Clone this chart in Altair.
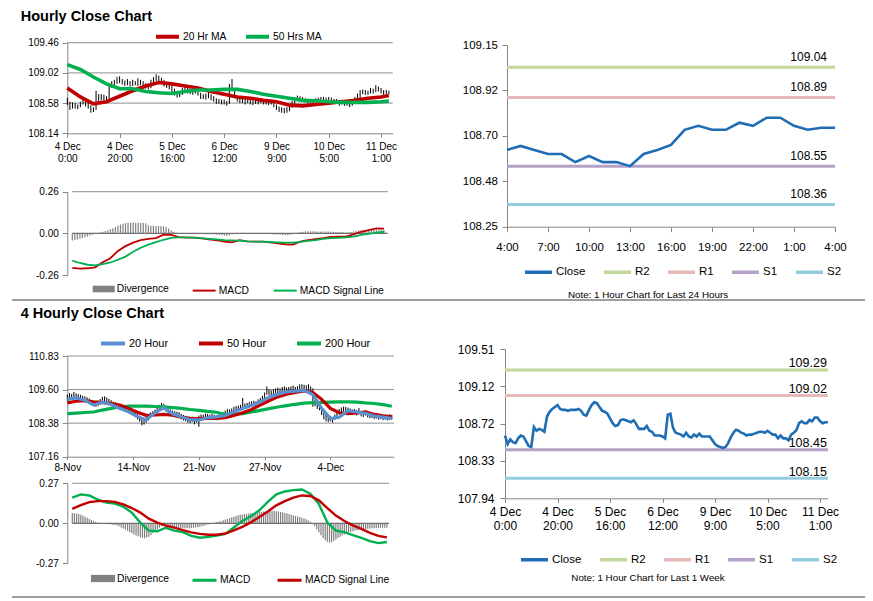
import json
import altair as alt
import pandas as pd

FONT = "Liberation Sans"
AXC = "#868686"
W, H = 857, 590

# ======================= DATA =======================
# Hourly series, index 0 = 4 Dec 0:00 ... index 123 = 11 Dec 4:00
week_close_head = [108.60, 108.51, 108.56, 108.53, 108.52, 108.57, 108.60, 108.59, 108.54, 108.49,
                   108.48, 108.69, 108.65, 108.67, 108.66, 108.64, 108.80, 108.85, 108.88, 108.90,
                   108.92, 108.88, 108.87, 108.87, 108.86, 108.87, 108.87, 108.87, 108.88, 108.86,
                   108.82, 108.81, 108.87, 108.92, 108.95, 108.94, 108.90, 108.86, 108.85, 108.83,
                   108.78, 108.73, 108.70, 108.71, 108.76, 108.77, 108.76, 108.75, 108.74, 108.76,
                   108.72, 108.67, 108.67, 108.67, 108.70, 108.65, 108.64, 108.60, 108.60, 108.60,
                   108.59, 108.57, 108.82, 108.83, 108.68, 108.63, 108.62, 108.61, 108.59, 108.63,
                   108.59, 108.58, 108.61, 108.59, 108.62, 108.59, 108.59, 108.59, 108.59, 108.55,
                   108.51, 108.49, 108.48, 108.47, 108.48, 108.52, 108.58, 108.63, 108.66, 108.65,
                   108.63, 108.62, 108.60, 108.61, 108.61, 108.62, 108.63, 108.64, 108.64]
# last 24 hours: 10 Dec 4:00 ... 11 Dec 4:00
day_close = [108.63, 108.65, 108.63, 108.61, 108.61, 108.57, 108.60, 108.57, 108.57, 108.55,
             108.61, 108.63, 108.655, 108.73, 108.75, 108.73, 108.73, 108.765, 108.75, 108.79,
             108.79, 108.75, 108.73, 108.74, 108.74]
hour_close = week_close_head + day_close

hour_high = [108.66, 108.60, 108.59, 108.58, 108.56, 108.60, 108.63, 108.62, 108.59, 108.55,
             108.52, 108.76, 108.71, 108.71, 108.70, 108.68, 108.84, 108.90, 108.92, 108.96,
             108.97, 108.93, 108.91, 108.93, 108.90, 108.92, 108.90, 108.94, 108.92, 108.90,
             108.87, 108.85, 108.92, 108.96, 109.00, 108.98, 108.95, 108.92, 108.89, 108.88,
             108.84, 108.79, 108.75, 108.75, 108.80, 108.81, 108.80, 108.79, 108.78, 108.80,
             108.77, 108.73, 108.71, 108.72, 108.74, 108.71, 108.68, 108.65, 108.64, 108.63,
             108.63, 108.61, 108.86, 108.93, 108.80, 108.69, 108.66, 108.65, 108.64, 108.66,
             108.64, 108.62, 108.64, 108.63, 108.65, 108.63, 108.62, 108.62, 108.63, 108.60,
             108.56, 108.53, 108.52, 108.51, 108.52, 108.55, 108.61, 108.66, 108.69, 108.68,
             108.67, 108.65, 108.64, 108.64, 108.64, 108.65, 108.66, 108.67, 108.67, 108.66,
             108.67, 108.66, 108.64, 108.64, 108.62, 108.63, 108.61, 108.60, 108.59, 108.63,
             108.67, 108.72, 108.77, 108.78, 108.77, 108.76, 108.80, 108.79, 108.84, 108.82,
             108.80, 108.77, 108.77, 108.76]
hour_low = [108.55, 108.48, 108.50, 108.50, 108.49, 108.52, 108.56, 108.53, 108.50, 108.44,
            108.45, 108.48, 108.60, 108.62, 108.62, 108.60, 108.63, 108.80, 108.84, 108.86,
            108.87, 108.85, 108.83, 108.84, 108.82, 108.83, 108.84, 108.83, 108.84, 108.81,
            108.79, 108.78, 108.80, 108.86, 108.90, 108.89, 108.86, 108.82, 108.80, 108.78,
            108.74, 108.69, 108.66, 108.67, 108.70, 108.73, 108.72, 108.71, 108.70, 108.72,
            108.69, 108.64, 108.64, 108.63, 108.65, 108.62, 108.60, 108.57, 108.57, 108.56,
            108.56, 108.54, 108.57, 108.77, 108.65, 108.60, 108.58, 108.58, 108.56, 108.58,
            108.56, 108.55, 108.57, 108.56, 108.58, 108.56, 108.56, 108.55, 108.56, 108.52,
            108.48, 108.45, 108.44, 108.43, 108.44, 108.46, 108.51, 108.57, 108.62, 108.61,
            108.60, 108.59, 108.57, 108.58, 108.58, 108.59, 108.60, 108.61, 108.60, 108.60,
            108.61, 108.60, 108.58, 108.58, 108.54, 108.56, 108.54, 108.54, 108.52, 108.54,
            108.59, 108.62, 108.65, 108.71, 108.70, 108.70, 108.72, 108.72, 108.74, 108.75,
            108.72, 108.70, 108.71, 108.71]

hour_ticks = [0, 20, 40, 60, 80, 100, 120]
hour_tick_labels = [["4 Dec", "0:00"], ["4 Dec", "20:00"], ["5 Dec", "16:00"], ["6 Dec", "12:00"],
                    ["9 Dec", "9:00"], ["10 Dec", "5:00"], ["11 Dec", "1:00"]]

ma_hours = [0, 5, 10, 15, 20, 25, 30, 35, 40, 45, 50, 55, 60, 65, 70, 75, 80, 85, 90, 95,
            100, 105, 110, 115, 120, 123]
ma20_hour = [108.80, 108.67, 108.57, 108.60, 108.68, 108.76, 108.83, 108.88, 108.86, 108.83,
             108.80, 108.75, 108.71, 108.67, 108.65, 108.62, 108.60, 108.55, 108.54, 108.56,
             108.58, 108.60, 108.62, 108.65, 108.67, 108.69]
ma50_hour = [109.14, 109.07, 108.96, 108.86, 108.79, 108.79, 108.75, 108.73, 108.72, 108.75,
             108.77, 108.77, 108.78, 108.78, 108.75, 108.71, 108.68, 108.65, 108.62, 108.615,
             108.60, 108.59, 108.59, 108.59, 108.60, 108.61]

macd_hours = [0, 3, 6, 9, 12, 15, 18, 21, 24, 27, 30, 33, 36, 39, 42, 45, 48, 51, 54, 57,
              60, 63, 66, 69, 72, 75, 78, 81, 84, 87, 90, 93, 96, 99, 102, 105, 108, 111, 114, 117,
              120, 123]
macd_hour = [-0.215, -0.220, -0.218, -0.212, -0.180, -0.155, -0.110, -0.080, -0.058, -0.042,
             -0.035, -0.030, -0.008, -0.010, -0.024, -0.027, -0.027, -0.032, -0.037, -0.043,
             -0.052, -0.056, -0.042, -0.050, -0.052, -0.052, -0.056, -0.062, -0.068, -0.070,
             -0.052, -0.043, -0.036, -0.030, -0.022, -0.020, -0.020, -0.007, 0.010, 0.020,
             0.031, 0.030]
signal_hour = [-0.170, -0.185, -0.196, -0.200, -0.192, -0.182, -0.165, -0.145, -0.115, -0.090,
               -0.070, -0.055, -0.040, -0.028, -0.025, -0.025, -0.027, -0.030, -0.034, -0.037,
               -0.042, -0.044, -0.046, -0.050, -0.052, -0.052, -0.054, -0.056, -0.058, -0.058,
               -0.053, -0.047, -0.042, -0.035, -0.030, -0.028, -0.025, -0.021, -0.010, -0.003,
               0.004, 0.010]
div_hour = [-0.045, -0.042, -0.038, -0.035, -0.030, -0.025, -0.020, -0.014, -0.008, -0.003,
            0.002, 0.006, 0.010, 0.015, 0.020, 0.026, 0.032, 0.040, 0.048, 0.055,
            0.060, 0.064, 0.066, 0.067, 0.067, 0.066, 0.066, 0.065, 0.064, 0.063,
            0.050, 0.048, 0.047, 0.046, 0.046, 0.045, 0.044, 0.040, 0.030, 0.020,
            0.010, 0.004, 0.001, -0.001, -0.002, -0.002, -0.002, -0.001, -0.002, -0.003,
            -0.003, -0.004, -0.005, -0.005, -0.006, -0.006, -0.007, -0.008, -0.010, -0.012,
            -0.014, -0.016, -0.012, -0.006, -0.002, 0.002, 0.001, 0.000, -0.001, -0.002,
            -0.001, -0.001, 0.000, -0.001, -0.002, -0.002, -0.003, -0.004, -0.005, -0.006,
            -0.007, -0.008, -0.009, -0.010, -0.011, -0.012, -0.010, -0.005, 0.000, 0.004,
            0.008, 0.010, 0.012, 0.013, 0.013, 0.013, 0.012, 0.012, 0.012, 0.011,
            0.011, 0.011, 0.010, 0.010, 0.009, 0.008, 0.008, 0.007, 0.006, 0.006,
            0.008, 0.012, 0.016, 0.018, 0.020, 0.021, 0.022, 0.023, 0.023, 0.022,
            0.021, 0.020, 0.020, 0.019]

day_ticks = [0, 3, 6, 9, 12, 15, 18, 21, 24]
day_tick_labels = ["4:00", "7:00", "10:00", "13:00", "16:00", "19:00", "22:00", "1:00", "4:00"]

level_names = ["R2", "R1", "S1", "S2"]
day_levels = [109.04, 108.89, 108.55, 108.36]
day_level_labels = ["109.04", "108.89", "108.55", "108.36"]
week_levels = [109.29, 109.02, 108.45, 108.15]
week_level_labels = ["109.29", "109.02", "108.45", "108.15"]

# 4-hourly series, index 0 = 8 Nov ... index 148
fh_high = [109.42, 109.48, 109.45, 109.52, 109.47, 109.44, 109.42, 109.38, 109.36, 109.33,
           109.28, 109.22, 109.18, 109.14, 109.20, 109.26, 109.34, 109.36, 109.32, 109.27,
           109.22, 109.17, 109.14, 109.10, 109.08, 109.04, 109.00, 108.98, 108.95, 108.90,
           108.85, 108.80, 108.74, 108.66, 108.58, 108.52, 108.60, 108.68, 108.77, 108.82,
           108.88, 108.94, 109.05, 109.12, 109.08, 109.00, 108.92, 108.88, 108.84, 108.82,
           108.80, 108.78, 108.72, 108.68, 108.65, 108.60, 108.58, 108.62, 108.56, 108.60,
           108.66, 108.70, 108.69, 108.73, 108.72, 108.69, 108.72, 108.69, 108.67, 108.70,
           108.74, 108.78, 108.84, 108.90, 108.88, 108.92, 108.98, 109.00, 109.02, 109.05,
           109.30, 109.10, 109.12, 109.15, 109.18, 109.20, 109.18, 109.25, 109.30, 109.38,
           109.50, 109.72, 109.62, 109.58, 109.62, 109.65, 109.68, 109.65, 109.70, 109.72,
           109.68, 109.70, 109.72, 109.75, 109.70, 109.73, 109.80, 109.80, 109.78, 109.76,
           109.80, 109.72, 109.65, 109.22, 109.12, 109.06, 108.95, 108.80, 108.68, 108.62,
           108.65, 108.60, 108.70, 108.82, 108.90, 108.95, 108.98, 108.97, 108.95, 108.92,
           108.88, 108.90, 108.85, 108.93, 108.82, 108.80, 108.85, 108.78, 108.74, 108.76,
           108.72, 108.73, 108.70, 108.71, 108.68, 108.69, 108.67, 108.71, 108.69]
fh_low = [109.20, 109.26, 109.28, 109.32, 109.30, 109.28, 109.24, 109.20, 109.18, 109.14,
          109.08, 109.04, 109.02, 108.98, 109.00, 109.05, 109.12, 109.18, 109.14, 109.10,
          109.04, 109.00, 108.96, 108.93, 108.90, 108.86, 108.82, 108.80, 108.74, 108.70,
          108.66, 108.60, 108.52, 108.44, 108.30, 108.33, 108.40, 108.48, 108.58, 108.64,
          108.70, 108.76, 108.84, 108.92, 108.88, 108.80, 108.74, 108.70, 108.66, 108.62,
          108.61, 108.58, 108.52, 108.48, 108.45, 108.40, 108.38, 108.42, 108.34, 108.40,
          108.25, 108.52, 108.50, 108.55, 108.53, 108.51, 108.54, 108.50, 108.49, 108.52,
          108.56, 108.60, 108.66, 108.70, 108.68, 108.72, 108.78, 108.80, 108.83, 108.85,
          108.88, 108.90, 108.93, 108.96, 108.98, 109.00, 108.98, 109.05, 109.10, 109.16,
          109.26, 109.42, 109.40, 109.38, 109.42, 109.45, 109.48, 109.46, 109.50, 109.52,
          109.48, 109.50, 109.53, 109.55, 109.51, 109.54, 109.56, 109.60, 109.58, 109.55,
          109.60, 109.48, 108.98, 109.00, 108.90, 108.85, 108.68, 108.52, 108.45, 108.42,
          108.45, 108.40, 108.50, 108.62, 108.70, 108.76, 108.80, 108.78, 108.76, 108.73,
          108.69, 108.72, 108.66, 108.70, 108.63, 108.61, 108.66, 108.59, 108.56, 108.57,
          108.53, 108.55, 108.51, 108.53, 108.49, 108.51, 108.48, 108.53, 108.51]

fh_ticks = [0, 30, 60, 90, 120]
fh_tick_labels = ["8-Nov", "14-Nov", "21-Nov", "27-Nov", "4-Dec"]

fh_ma_idx = [0, 4, 8, 12, 16, 20, 24, 28, 32, 36, 40, 44, 48, 52, 56, 60, 64, 68, 72, 76,
             80, 84, 88, 92, 96, 100, 104, 108, 112, 116, 120, 124, 128, 132, 136, 140, 144, 148]
ma20_fh = [109.25, 109.30, 109.22, 109.04, 109.15, 109.06, 108.92, 108.80, 108.62, 108.51,
           108.76, 108.95, 108.72, 108.62, 108.50, 108.50, 108.58, 108.61, 108.66, 108.80,
           108.92, 109.03, 109.16, 109.33, 109.44, 109.52, 109.55, 109.58, 109.42, 108.92,
           108.55, 108.60, 108.84, 108.79, 108.74, 108.64, 108.60, 108.55]
ma50_fh = [109.12, 109.18, 109.20, 109.16, 109.13, 109.10, 109.04, 108.92, 108.78, 108.67,
           108.68, 108.70, 108.67, 108.60, 108.56, 108.55, 108.56, 108.56, 108.58, 108.66,
           108.76, 108.88, 109.04, 109.20, 109.34, 109.44, 109.50, 109.56, 109.50, 109.25,
           108.92, 108.76, 108.73, 108.76, 108.79, 108.70, 108.65, 108.61]
ma200_fh = [108.73, 108.75, 108.77, 108.79, 108.86, 108.92, 108.97, 109.00, 109.00, 109.00,
            108.99, 108.98, 108.95, 108.92, 108.88, 108.85, 108.81, 108.78, 108.70, 108.71,
            108.73, 108.79, 108.85, 108.91, 108.97, 109.02, 109.07, 109.11, 109.13, 109.14,
            109.15, 109.16, 109.16, 109.15, 109.12, 109.10, 109.06, 109.00]
macd_fh = [0.173, 0.195, 0.188, 0.160, 0.140, 0.133, 0.112, 0.072, 0.005, -0.050,
           -0.054, -0.030, -0.050, -0.060, -0.085, -0.097, -0.092, -0.083, -0.072, -0.028,
           0.016, 0.048, 0.088, 0.145, 0.195, 0.215, 0.224, 0.228, 0.200, 0.130,
           0.005, -0.050, -0.060, -0.080, -0.099, -0.120, -0.134, -0.126]
signal_fh = [0.097, 0.122, 0.143, 0.150, 0.150, 0.145, 0.128, 0.103, 0.072, 0.031,
             0.004, -0.016, -0.029, -0.046, -0.061, -0.071, -0.077, -0.077, -0.069, -0.048,
             -0.024, 0.006, 0.042, 0.080, 0.121, 0.150, 0.173, 0.188, 0.184, 0.155,
             0.103, 0.052, 0.015, -0.014, -0.038, -0.064, -0.085, -0.095]
div_fh = [0.070, 0.068, 0.065, 0.062, 0.058, 0.052, 0.045, 0.038, 0.030, 0.022,
          0.015, 0.008, 0.003, 0.000, -0.002, -0.004, -0.005, -0.006, -0.008, -0.010,
          -0.012, -0.015, -0.020, -0.028, -0.035, -0.042, -0.050, -0.058, -0.066, -0.075,
          -0.082, -0.088, -0.094, -0.098, -0.100, -0.096, -0.090, -0.080, -0.068, -0.055,
          -0.042, -0.030, -0.020, -0.012, -0.015, -0.020, -0.024, -0.026, -0.028, -0.030,
          -0.031, -0.032, -0.033, -0.034, -0.034, -0.033, -0.032, -0.030, -0.028, -0.026,
          -0.024, -0.020, -0.016, -0.012, -0.008, -0.004, 0.000, 0.004, 0.008, 0.012,
          0.016, 0.020, 0.025, 0.030, 0.035, 0.040, 0.045, 0.050, 0.054, 0.058,
          0.060, 0.062, 0.064, 0.066, 0.068, 0.070, 0.072, 0.074, 0.076, 0.078,
          0.080, 0.082, 0.083, 0.084, 0.085, 0.084, 0.082, 0.080, 0.077, 0.074,
          0.070, 0.066, 0.062, 0.058, 0.054, 0.050, 0.046, 0.042, 0.038, 0.034,
          0.028, 0.020, 0.010, -0.005, -0.020, -0.040, -0.060, -0.080, -0.100, -0.115,
          -0.125, -0.130, -0.128, -0.120, -0.110, -0.100, -0.090, -0.082, -0.075, -0.068,
          -0.062, -0.058, -0.054, -0.050, -0.047, -0.044, -0.042, -0.040, -0.038, -0.036,
          -0.035, -0.034, -0.033, -0.032, -0.031, -0.030, -0.030, -0.030, -0.030]

# axis tick values / labels
p1_ticks = [108.14, 108.58, 109.02, 109.46]
p1_labels = ["108.14", "108.58", "109.02", "109.46"]
m1_ticks = [-0.26, 0, 0.26]
m1_labels = ["-0.26", "0.00", "0.26"]
r1_ticks = [108.25, 108.475, 108.70, 108.925, 109.15]
r1_labels = ["108.25", "108.48", "108.70", "108.92", "109.15"]
p2_ticks = [107.16, 108.3833, 109.6067, 110.83]
p2_labels = ["107.16", "108.38", "109.60", "110.83"]
m2_ticks = [-0.27, 0, 0.27]
m2_labels = ["-0.27", "0.00", "0.27"]
r2_ticks = [107.94, 108.3325, 108.725, 109.1175, 109.51]
r2_labels = ["107.94", "108.33", "108.72", "109.12", "109.51"]

LEVEL_COLORS = ["#1F6DB5", "#C3D69B", "#E6B9B8", "#B3A2C7", "#93CDDD"]
RECT = "M-1,-0.3L1,-0.3L1,0.3L-1,0.3Z"


# ======================= HELPERS =======================
def lab_expr(values, labels):
    return f"{json.dumps(labels)}[indexof({json.dumps(values)}, datum.value)]"


def y_axis(values, labels, offset, size, tick=5, pad=4):
    return alt.Axis(orient="left", offset=offset, values=values, labelExpr=lab_expr(values, labels),
                    title=None, grid=False, domainColor=AXC, domainWidth=1, tickColor=AXC,
                    tickSize=tick, labelPadding=pad, labelFont=FONT, labelFontSize=size,
                    labelColor="#000000", labelOverlap=False, labelFlush=False, labelBound=False)


def x_axis(values, labels, offset, size, tick=4, pad=4, lh=13):
    return alt.Axis(orient="bottom", offset=offset, values=values, labelExpr=lab_expr(values, labels),
                    title=None, grid=False, domainColor=AXC, domainWidth=1, tickColor=AXC,
                    tickSize=tick, labelPadding=pad, labelFont=FONT, labelFontSize=size,
                    labelColor="#000000", labelOverlap=False, labelFlush=False, labelBound=False,
                    labelAngle=0, labelAlign="center", labelLineHeight=lh)


def legend(x, y, size, sym=529, sw=4, off=2, pad=11, stype="stroke"):
    return alt.Legend(orient="none", legendX=x, legendY=y, direction="horizontal", title=None,
                      labelFont=FONT, labelFontSize=size, labelColor="#000000",
                      symbolType=stype, symbolSize=sym, symbolStrokeWidth=sw,
                      labelOffset=off, columnPadding=pad, padding=0)


def qs(domain, rng):
    return alt.Scale(domain=domain, range=rng, nice=False, zero=False)


def long_df(idx, series):
    rows = []
    for name, vals in series:
        for i, v in zip(idx, vals):
            rows.append({"i": i, "v": v, "s": name})
    return pd.DataFrame(rows)


def price_panel(n, high, low, lines, names, colors, xs, ys, ax, ay, grid_vals, xmax, lw, leg):
    X = lambda f: alt.X(f"{f}:Q", scale=xs, axis=ax)
    Y = lambda f: alt.Y(f"{f}:Q", scale=ys, axis=ay)
    grid = alt.Chart(pd.DataFrame({"v": grid_vals, "a": 0, "b": xmax})).mark_rule(
        color="#8C8C8C", strokeWidth=1).encode(x=X("a"), x2="b:Q", y=Y("v"))
    bars = alt.Chart(pd.DataFrame({"i": list(range(n)), "lo": low, "hi": high})).mark_rule(
        color="#000000", strokeWidth=1).encode(x=X("i"), y=Y("lo"), y2="hi:Q")
    ln = alt.Chart(lines).mark_line(strokeWidth=lw).encode(
        x=X("i"), y=Y("v"),
        color=alt.Color("s:N", scale=alt.Scale(domain=names, range=colors), legend=leg))
    return alt.layer(grid, bars, ln)


def macd_panel(div, lines, names, colors, xs, ys, ay, top, xmax, lw, fleg, cleg):
    X = lambda f: alt.X(f"{f}:Q", scale=xs, axis=None)
    Y = lambda f: alt.Y(f"{f}:Q", scale=ys, axis=ay)
    topg = alt.Chart(pd.DataFrame({"v": [top], "a": 0, "b": xmax})).mark_rule(
        color="#8C8C8C", strokeWidth=1).encode(x=X("a"), x2="b:Q", y=Y("v"))
    zero = alt.Chart(pd.DataFrame({"v": [0], "a": 0, "b": xmax})).mark_rule(
        color="#707070", strokeWidth=1.3).encode(x=X("a"), x2="b:Q", y=Y("v"))
    bars = alt.Chart(pd.DataFrame({"i": list(range(len(div))), "d": div, "z": 0,
                                   "s": "Divergence"})).mark_bar(width=1.2).encode(
        x=X("i"), y=Y("d"), y2="z:Q",
        fill=alt.Fill("s:N", scale=alt.Scale(domain=["Divergence"], range=["#808080"]), legend=fleg))
    ln = alt.Chart(lines).mark_line(strokeWidth=lw).encode(
        x=X("i"), y=Y("v"),
        color=alt.Color("s:N", scale=alt.Scale(domain=names, range=colors), legend=cleg))
    return alt.layer(topg, bars, zero, ln)


def level_panel(close, levels, level_labels, xmax, xs, ys, ax, ay, leg, dx, dy, fs):
    X = lambda f: alt.X(f"{f}:Q", scale=xs, axis=ax)
    Y = lambda f: alt.Y(f"{f}:Q", scale=ys, axis=ay)
    col = alt.Color("s:N", scale=alt.Scale(domain=["Close"] + level_names, range=LEVEL_COLORS),
                    legend=leg)
    lev_rows = []
    for name, v in zip(level_names, levels):
        lev_rows += [{"i": 0, "v": v, "s": name}, {"i": xmax, "v": v, "s": name}]
    lev = alt.Chart(pd.DataFrame(lev_rows)).mark_line(strokeWidth=3).encode(x=X("i"), y=Y("v"), color=col)
    cl = alt.Chart(pd.DataFrame({"i": list(range(len(close))), "v": close, "s": "Close"})).mark_line(
        strokeWidth=2.6).encode(x=X("i"), y=Y("v"), color=col)
    lab = alt.Chart(pd.DataFrame({"i": xmax, "v": levels, "t": level_labels})).mark_text(
        align="right", baseline="middle", dx=dx, dy=dy, font=FONT, fontSize=fs, color="#000000").encode(
        x=X("i"), y=Y("v"), text="t:N")
    return alt.layer(lev, cl, lab)


def text_mark(txt, x, y, size, weight="normal", align="left", baseline="middle"):
    return alt.Chart(pd.DataFrame({"t": [txt]})).mark_text(
        align=align, baseline=baseline, font=FONT, fontSize=size, fontWeight=weight,
        color="#000000").encode(text="t:N", x=alt.value(x), y=alt.value(y))


# ======================= PANELS =======================
# --- Hourly close chart (top-left) ---
x_h = qs([0, 124.5], [59.3, 384.8])
p1 = price_panel(
    len(hour_high), hour_high, hour_low,
    long_df(ma_hours, [("20 Hr MA", ma20_hour), ("50 Hrs MA", ma50_hour)]),
    ["20 Hr MA", "50 Hrs MA"], ["#C00000", "#00B050"],
    x_h, qs([108.14, 109.46], [125.3, 34.7]),
    x_axis(hour_ticks, hour_tick_labels, 125.3 - H, 10, tick=4, pad=4, lh=12.7),
    y_axis(p1_ticks, p1_labels, -59.3, 10, tick=5, pad=4),
    [108.58, 109.02, 109.46], 124.5, 3.6,
    legend(146, 15, 10.3, sym=529, sw=4, off=2, pad=11))

m1 = macd_panel(
    div_hour,
    long_df(macd_hours, [("MACD", macd_hour), ("MACD Signal Line", signal_hour)]),
    ["MACD", "MACD Signal Line"], ["#C00000", "#00B050"],
    x_h, qs([-0.26, 0.26], [267.0, 183.7]),
    y_axis(m1_ticks, m1_labels, -59.3, 10, tick=5, pad=4), 0.26, 124.5, 1.8,
    legend(84.7, 270, 10.3, sym=484, sw=0, off=2, pad=11, stype=RECT),
    legend(183.7, 270, 10.3, sym=529, sw=2, off=2, pad=20))

r1 = level_panel(
    day_close, day_levels, day_level_labels, 24,
    qs([0, 24], [499, 827]), qs([108.25, 109.15], [218.7, 37]),
    x_axis(day_ticks, day_tick_labels, 218.7 - H, 11.5, tick=5, pad=10),
    y_axis(r1_ticks, r1_labels, -499, 11.5, tick=5, pad=4.5),
    legend(515, 248.5, 11.5, sym=729, sw=3.5, off=2, pad=11), -8, -10, 12)

# --- 4 Hourly close chart (bottom-left) ---
x_f = qs([0, 149], [59.3, 386])
p2 = price_panel(
    len(fh_high), fh_high, fh_low,
    long_df(fh_ma_idx, [("200 Hour", ma200_fh), ("50 Hour", ma50_fh), ("20 Hour", ma20_fh)]),
    ["20 Hour", "50 Hour", "200 Hour"], ["#5B8FD0", "#C00000", "#00B050"],
    x_f, qs([107.16, 110.83], [448.7, 348]),
    x_axis(fh_ticks, fh_tick_labels, 448.7 - H, 10, tick=3, pad=3),
    y_axis(p2_ticks, p2_labels, -59.3, 10, tick=5, pad=4),
    [108.3833, 109.6067, 110.83], 149, 3.2,
    legend(91, 321.5, 11, sym=576, sw=4, off=2, pad=22))

m2 = macd_panel(
    div_fh,
    long_df(fh_ma_idx, [("MACD", macd_fh), ("MACD Signal Line", signal_fh)]),
    ["MACD", "MACD Signal Line"], ["#00B050", "#C00000"],
    x_f, qs([-0.27, 0.27], [555.3, 475.3]),
    y_axis(m2_ticks, m2_labels, -59.3, 10, tick=5, pad=4), 0.27, 149, 2.4,
    legend(83, 558.5, 10.3, sym=576, sw=0, off=2, pad=11, stype=RECT),
    legend(183, 558.5, 10.3, sym=576, sw=3, off=2, pad=20))

r2 = level_panel(
    hour_close, week_levels, week_level_labels, 123,
    qs([0, 123], [497, 819.9]), qs([107.94, 109.51], [490.3, 341]),
    x_axis(hour_ticks, hour_tick_labels, 490.3 - H, 12, tick=4, pad=4, lh=14),
    y_axis(r2_ticks, r2_labels, -497, 12, tick=5, pad=6),
    legend(511, 536, 11.5, sym=729, sw=3.5, off=2, pad=11), -1, -6.5, 12.5)

title1 = text_mark("Hourly Close Chart", 12.7, 12.5, 14.5, "bold", baseline="alphabetic")
title2 = text_mark("4 Hourly Close Chart", 12.7, 309.5, 14.5, "bold", baseline="alphabetic")
note1 = text_mark("Note: 1 Hour Chart for Last 24 Hours", 640, 287, 9.8, align="center")
note2 = text_mark("Note: 1 Hour Chart for Last 1 Week", 640, 570, 9.8, align="center")
sep1 = alt.Chart().mark_rule(color="#7F7F7F", strokeWidth=1.5).encode(
    x=alt.value(4), x2=alt.value(W), y=alt.value(292))
sep2 = alt.Chart().mark_rule(color="#7F7F7F", strokeWidth=1.5).encode(
    x=alt.value(4), x2=alt.value(W), y=alt.value(589))

chart = alt.layer(p1, m1, r1, p2, m2, r2, title1, title2, note1, note2, sep1, sep2).resolve_scale(
    x="independent", y="independent", color="independent", fill="independent"
).properties(
    width=W, height=H, autosize=alt.AutoSizeParams(type="none"), padding=0
).configure_view(stroke=None)

chart.save("out.html", embed_options={"renderer": "svg", "actions": False})
